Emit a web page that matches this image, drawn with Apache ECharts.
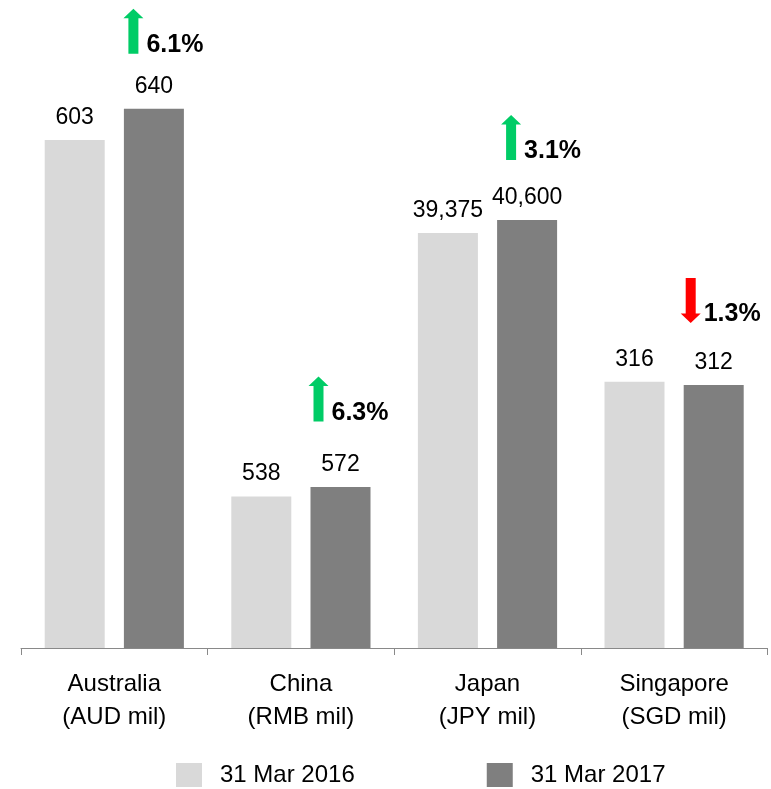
<!DOCTYPE html>
<html>
<head>
<meta charset="utf-8">
<script src="https://cdn.jsdelivr.net/npm/echarts@6/dist/echarts.min.js"></script>
<style>
  html, body { margin: 0; padding: 0; background: #fff; }
  #chart { width: 771px; height: 789px; }
</style>
</head>
<body>
<div id="chart"></div>
<script>
// data
const countries = ["Australia", "China", "Japan", "Singapore"];
const units = ["AUD mil", "RMB mil", "JPY mil", "SGD mil"];
const seriesNames = ["31 Mar 2016", "31 Mar 2017"];
const values2016 = [603, 538, 39375, 316];
const values2017 = [640, 572, 40600, 312];
const changes = [6.1, 6.3, 3.1, -1.3];
// each market is drawn on its own value scale
const axisMax = [769, 2302, 61470, 769];

// arrow placement relative to the 2017 bar top (px)
const arrowOffsets = [[-20.5, -77.5], [-22, -88], [-16, -82.5], [-23, -84.5]];

const FONT = "Liberation Sans, Arial, sans-serif";
const upArrow = "path://M5,45 L5,9.5 L0,9.5 L10,0 L20,9.5 L15,9.5 L15,45 Z";
const downArrow = "path://M5,0 L5,35.5 L0,35.5 L10,45 L20,35.5 L15,35.5 L15,0 Z";

function fmt(v) {
  return v.toLocaleString("en-US");
}

let chart = echarts.init(document.getElementById("chart"));

let gridLeft = 21, catWidth = 186.6;
let grids = [], xAxes = [], yAxes = [], series = [];

countries.forEach((c, i) => {
  grids.push({
    left: gridLeft + i * catWidth,
    width: catWidth,
    top: 0,
    bottom: 141
  });
  xAxes.push({
    type: "category",
    gridIndex: i,
    data: [c + "\n(" + units[i] + ")"],
    axisLine: { lineStyle: { color: "#898989", width: 1 } },
    axisTick: { show: true, length: 7, lineStyle: { color: "#898989" } },
    axisLabel: {
      interval: 0,
      margin: 20,
      color: "#000",
      fontSize: 24,
      lineHeight: 33,
      fontFamily: FONT
    }
  });
  yAxes.push({
    type: "value",
    gridIndex: i,
    min: 0,
    max: axisMax[i],
    show: false,
    splitLine: { show: false }
  });

  let up = changes[i] >= 0;
  series.push({
    name: seriesNames[0],
    type: "bar",
    xAxisIndex: i,
    yAxisIndex: i,
    barWidth: 60,
    barGap: "32%",
    itemStyle: { color: "#d9d9d9" },
    label: {
      show: true,
      position: "top",
      distance: 11,
      color: "#000",
      fontSize: 23,
      fontFamily: FONT,
      formatter: p => fmt(p.value)
    },
    data: [values2016[i]]
  });
  series.push({
    name: seriesNames[1],
    type: "bar",
    xAxisIndex: i,
    yAxisIndex: i,
    barWidth: 60,
    barGap: "32%",
    itemStyle: { color: "#7f7f7f" },
    label: {
      show: true,
      position: "top",
      distance: 11,
      color: "#000",
      fontSize: 23,
      fontFamily: FONT,
      formatter: p => fmt(p.value)
    },
    data: [values2017[i]],
    markPoint: {
      silent: true,
      animation: false,
      symbol: up ? upArrow : downArrow,
      symbolSize: [20, 45],
      symbolKeepAspect: false,
      symbolOffset: arrowOffsets[i],
      itemStyle: { color: up ? "#00cc66" : "#ff0000" },
      label: {
        show: true,
        position: "right",
        distance: 3,
        offset: [0, 14],
        color: "#000",
        fontSize: 25,
        fontWeight: "bold",
        fontFamily: FONT,
        formatter: Math.abs(changes[i]).toFixed(1) + "%"
      },
      data: [{ coord: [0, values2017[i]] }]
    }
  });
});

let option = {
  animation: false,
  legend: {
    data: seriesNames,
    left: 171,
    top: 758,
    itemWidth: 26,
    itemHeight: 24,
    itemGap: 132,
    icon: "rect",
    textStyle: { color: "#000", fontSize: 24, fontFamily: FONT, padding: [0, 0, 0, 13] }
  },
  grid: grids,
  xAxis: xAxes,
  yAxis: yAxes,
  series: series
};

chart.setOption(option);
</script>
</body>
</html>
